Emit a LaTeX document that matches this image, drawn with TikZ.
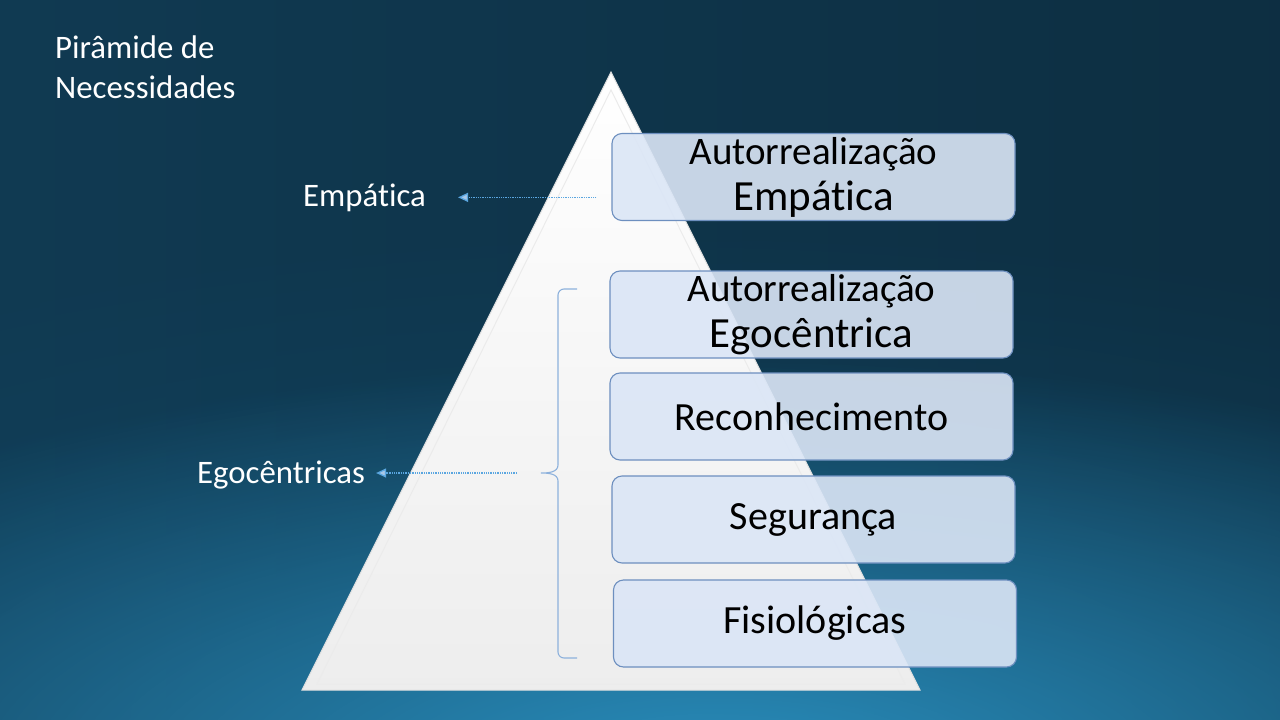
\documentclass[tikz,border=0pt]{standalone}
\usepackage{fontspec}
\setmainfont{Carlito}[Ligatures={NoCommon}]
\usepackage{tikz}
\usetikzlibrary{arrows.meta,positioning,calc,fadings}

\definecolor{bgtop}{HTML}{103A52}
\definecolor{bgbot}{HTML}{124460}
\definecolor{bglight}{HTML}{2A8FBE}
\definecolor{boxfill}{HTML}{DBE6F6}
\definecolor{boxline}{HTML}{6D8FBF}
\definecolor{linkcol}{HTML}{5AA6E0}
\definecolor{arrowfill}{HTML}{A9C8E8}
\definecolor{bracecol}{HTML}{8DB1DC}

\tikzfading[name=brilho, inner color=transparent!0, outer color=transparent!100]

\newcommand{\linhaA}{\fontsize{39}{46}\selectfont}
\newcommand{\linhaB}{\fontsize{43}{46}\selectfont}

\begin{document}
\begin{tikzpicture}[
  x=1pt, y=-1pt,
  level/.style={rectangle, rounded corners=10pt, draw=boxline, line width=1.1pt, fill=boxfill, fill opacity=0.9, text opacity=1, text=black, minimum width=403pt, minimum height=87pt, inner sep=0pt, align=center, font=\fontsize{40}{46}\selectfont},
  side/.style={text=white, inner sep=0pt, font=\fontsize{32.8}{40}\selectfont},
  link/.style={densely dotted, linkcol, line width=1.3pt, -{Triangle[length=10pt, width=9pt, fill=arrowfill]}},
  chave/.style={draw=bracecol, line width=1.1pt}
]
  \useasboundingbox (0,0) rectangle (1280,720);
  % Background
  \begin{scope}
    \clip (0,0) rectangle (1280,720);
    \shade[left color=bgtop, right color=bgtop!80!black] (0,0) rectangle (1280,720);
    \fill[bgbot, path fading=brilho] (640,720) ellipse [x radius=1400, y radius=500];
    \fill[bglight, path fading=brilho] (720,780) ellipse [x radius=1200, y radius=420];
  \end{scope}
  % Pyramid
  \shade[top color=white, bottom color=black!7, draw=black!12, line width=1pt] (611,72) -- (920,690) -- (302,690) -- cycle;
  \draw[black!8, line width=1pt] (611,90) -- (905,684) -- (317,684) -- cycle;
  % Title
  \node[side, anchor=north west, align=left] (titulo) at (55,36) {Pirâmide de\\Necessidades};
  % Levels
  \node[level] (b1) at (813.5,177) {\linhaA Autorrealização\\\linhaB Empática};
  \node[level] (b2) at (811.5,314.5) {\linhaA Autorrealização\\\linhaB Egocêntrica};
  \node[level] (b3) at (811.5,416.5) {Reconhecimento};
  \node[level] (b4) at (813.5,519.5) {Segurança};
  \node[level] (b5) at (815,623.5) {Fisiológicas};
  % Side labels
  \node[side, anchor=base west] (lEmp) at (303,206) {Empática};
  \node[side, anchor=base west] (lEgo) at (197,483) {Egocêntricas};
  % Brace over the egocentric levels
  \coordinate (ponta) at (541,473);
  \draw[chave] (577,289) -- (564,289) to[out=180,in=90] (558,295) -- (558,465)
    to[out=-90,in=0] (ponta) to[out=0,in=90] (558,481) -- (558,652)
    to[out=-90,in=180] (564,658) -- (577,658);
  % Arrows
  \draw[link, shorten <=15pt, shorten >=32pt] (lEmp.east -| b1.west) -- (lEmp.east);
  \draw[link, shorten <=24pt, shorten >=11pt] (ponta) -- (ponta -| lEgo.east);
\end{tikzpicture}
\end{document}
